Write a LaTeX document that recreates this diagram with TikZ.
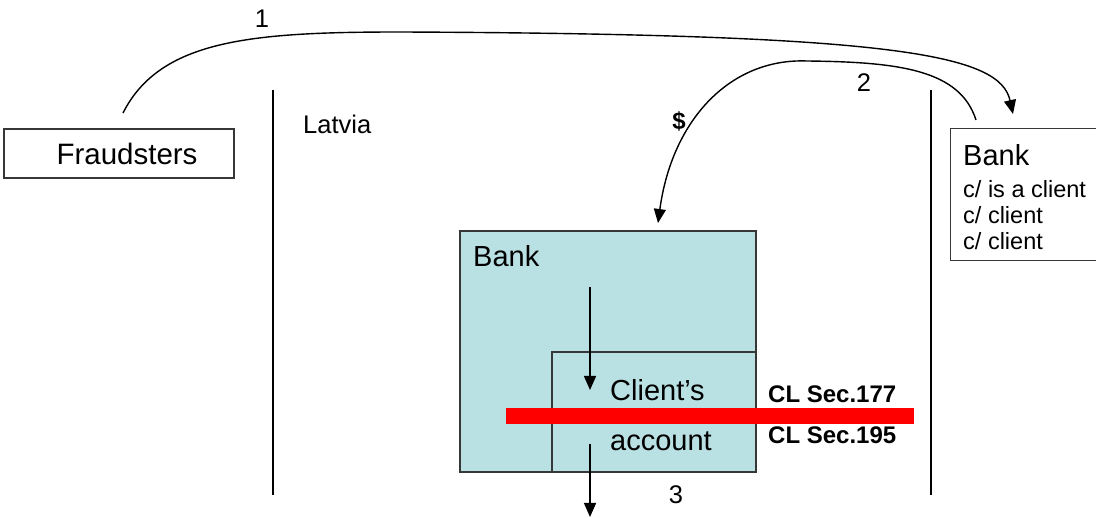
\documentclass[tikz,border=0pt]{standalone}
\usepackage{fontspec}
\setmainfont{Liberation Sans}
\usetikzlibrary{arrows.meta}
\definecolor{acctfill}{RGB}{185,224,227}
\definecolor{edgegray}{RGB}{55,55,55}
\begin{document}
\begin{tikzpicture}[x=1pt,y=-1pt,
  box/.style={draw=edgegray,line width=1.3pt,rectangle,inner sep=0pt},
  lbl/.style={inner sep=0pt,anchor=base west},
  big/.style={font=\fontsize{29}{31}\selectfont},
  mid/.style={font=\fontsize{25.5}{28}\selectfont},
  small/.style={font=\fontsize{23.5}{26}\selectfont},
  boldlbl/.style={font=\fontsize{24}{26}\selectfont\bfseries},
  flow/.style={line width=1.4pt,-{Triangle[length=14pt,width=12pt]}},
  border/.style={line width=1.5pt},
]
\clip (0,0) rectangle (1096,518);
\fill[white] (0,0) rectangle (1096,518);

% borders of the country
\coordinate (b1top) at (273,90);
\coordinate (b1bot) at (273,495);
\coordinate (b2top) at (931,90);
\coordinate (b2bot) at (931,495);
\draw[border] (b1top) -- (b1bot);
\draw[border] (b2top) -- (b2bot);
\node[lbl,mid] (latvia) at (303,134) {Latvia};

% fraudsters
\node[box,minimum width=230pt,minimum height=49pt] (fraud) at (119,153.5) {};
\node[inner sep=0pt,anchor=base,font=\fontsize{29.5}{31}\selectfont] (fraudtxt) at (127,165) {Fraudsters};

% foreign bank
\node[box,anchor=north west,minimum width=160pt,minimum height=132pt] (fbank) at (950,128) {};
\node[lbl,big] (fbanktxt) at (963,166) {Bank};
\node[lbl,small] (c1) at (963,198) {c/ is a client};
\node[lbl,small] (c2) at (963,224) {c/ client};
\node[lbl,small] (c3) at (963,250) {c/ client};

% Latvian bank and the client's account
\node[box,fill=acctfill,minimum width=296pt,minimum height=241pt] (lbank) at (608,351.5) {};
\node[box,fill=acctfill,minimum width=204pt,minimum height=120pt] (acct) at (654,412) {};
\node[lbl,big] (lbanktxt) at (473,267) {Bank};
\node[lbl,big] (accttxt1) at (610,401) {Client’s};
\node[lbl,big] (accttxt2) at (610,451) {account};

% legal line
\fill[red] (506,408) rectangle (914,424);
\node[lbl,boldlbl] (sec177) at (768,403) {CL Sec.177};
\node[lbl,boldlbl] (sec195) at (768,444) {CL Sec.195};

% step 1: fraudsters to the foreign bank
\coordinate (s1a) at (123,113);
\coordinate (s1m) at (400,32);
\coordinate (s1b) at (1013,114);
\draw[flow] (s1a) .. controls (160,40) and (250,32) .. (s1m)
  .. controls (900,34) and (1000,55) .. (s1b);
\node[mid,inner sep=0pt] (n1) at (262,19) {1};

% step 2: money to the Latvian bank
\coordinate (s2a) at (976,120);
\coordinate (s2m) at (807,61);
\coordinate (s2b) at (658,223);
\draw[flow] (s2a) .. controls (960,70) and (900,62) .. (s2m)
  .. controls (730,58) and (672,120) .. (s2b);
\node[mid,inner sep=0pt] (n2) at (864,83) {2};
\node[boldlbl,inner sep=0pt] (dollar) at (679,121) {\$};

% into and out of the account
\coordinate (inA) at (590,287);
\coordinate (inB) at (590,390);
\draw[flow] (inA) -- (inB);
\coordinate (outA) at (590,444);
\coordinate (outB) at (590,517);
\draw[flow] (outA) -- (outB);
\node[mid,inner sep=0pt] (n3) at (676,495) {3};
\end{tikzpicture}
\end{document}
